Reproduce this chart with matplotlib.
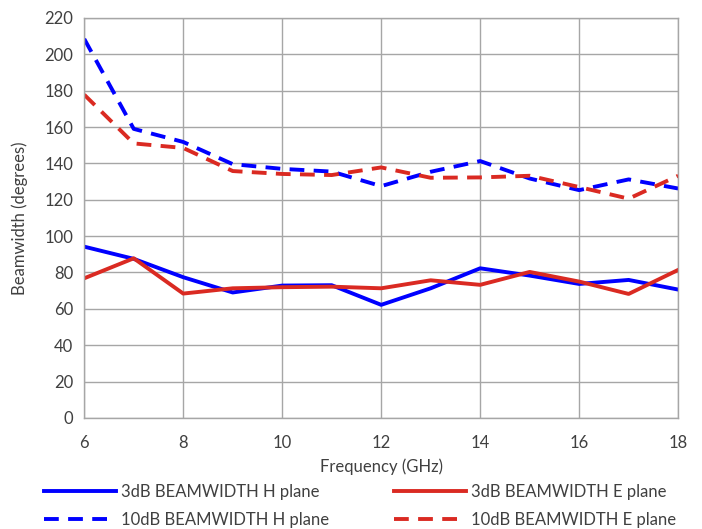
import numpy as np
import matplotlib.pyplot as plt

plt.rcParams['font.family'] = ['Lato', 'DejaVu Sans']

# frequency points (GHz)
freq = [6, 7, 8, 9, 10, 11, 12, 13, 14, 15, 16, 17, 18]

# beamwidth values (degrees)
bw3_h = [94.2, 87.5, 77.4, 69.0, 72.8, 73.0, 62.2, 71.3, 82.3, 78.3, 73.7, 75.9, 70.6]
bw3_e = [76.8, 87.8, 68.4, 71.3, 71.9, 72.2, 71.3, 75.7, 73.2, 80.3, 75.0, 68.2, 81.4]
bw10_h = [208.5, 159.0, 151.8, 139.6, 137.0, 135.5, 127.5, 135.4, 141.3, 131.7, 125.3, 131.2, 126.2]
bw10_e = [177.8, 151.0, 148.5, 135.8, 134.2, 133.6, 137.8, 132.1, 132.3, 133.2, 127.0, 120.6, 133.2]

blue = '#0000FF'
red = '#DA2A22'
grid_c = '#A6A6A6'
txt_c = '#404040'

fig = plt.figure(figsize=(7.02, 5.29), dpi=100)
ax = fig.add_axes([0.12, 0.21, 0.846, 0.756])

lw = 2.8
ax.plot(freq, bw3_h, color=blue, lw=lw, label='3dB BEAMWIDTH H plane')
ax.plot(freq, bw3_e, color=red, lw=lw, label='3dB BEAMWIDTH E plane')
ax.plot(freq, bw10_h, color=blue, lw=lw, dashes=(3.8, 2.4), label='10dB BEAMWIDTH H plane')
ax.plot(freq, bw10_e, color=red, lw=lw, dashes=(3.8, 2.4), label='10dB BEAMWIDTH E plane')

ax.set_xlim(6, 18)
ax.set_ylim(0, 220)
ax.set_xticks(np.arange(6, 19, 2))
ax.set_yticks(np.arange(0, 221, 20))
ax.grid(True, color=grid_c, lw=1)
ax.set_axisbelow(True)
for s in ax.spines.values():
    s.set_color(grid_c)
    s.set_linewidth(1)
ax.tick_params(length=0, labelsize=12, colors=txt_c, pad=8)
ax.tick_params(axis='x', pad=12)

ax.set_xlabel('Frequency (GHz)', fontsize=12, color=txt_c, labelpad=6)
ax.set_ylabel('Beamwidth (degrees)', fontsize=12, color=txt_c, labelpad=12)

# legend fills column-wise, so reorder to get rows: 3dB pair, 10dB pair
h, l = ax.get_legend_handles_labels()
order = [0, 2, 1, 3]
leg = fig.legend([h[i] for i in order], [l[i] for i in order], ncol=2,
                 loc='lower center', bbox_to_anchor=(0.513, -0.027), frameon=False,
                 fontsize=12, handlelength=4.3, handletextpad=0.3,
                 columnspacing=3.9, labelspacing=0.75)
for t in leg.get_texts():
    t.set_color(txt_c)

fig.savefig('out.png', dpi=100)
